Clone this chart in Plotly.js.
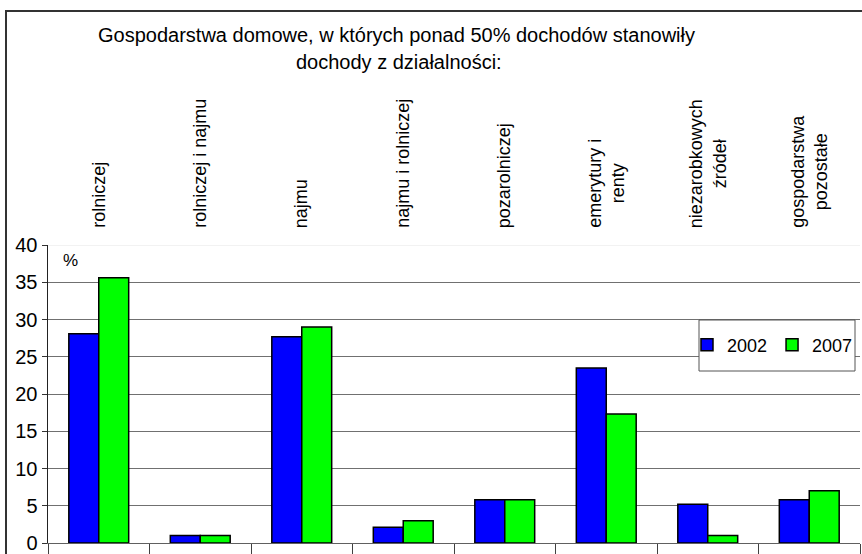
<!DOCTYPE html>
<html>
<head>
<meta charset="utf-8">
<script src="https://cdn.plot.ly/plotly-3.0.1.min.js"></script>
<style>
html,body{margin:0;padding:0;background:#fff;}
#chart{width:862px;height:554px;}
</style>
</head>
<body>
<div id="chart"></div>
<script>
const categories = ["rolniczej", "rolniczej i najmu", "najmu", "najmu i rolniczej", "pozarolniczej", "emerytury i<br>renty", "niezarobkowych<br>źródeł", "gospodarstwa<br>pozostałe"];
const values2002 = [28.1, 1.0, 27.7, 2.1, 5.8, 23.5, 5.2, 5.8];
const values2007 = [35.6, 1.0, 29.0, 3.0, 5.8, 17.3, 1.0, 7.0];
const seriesNames = ["2002", "2007"];
const titleLines = ["Gospodarstwa domowe, w których ponad 50% dochodów stanowiły", "dochody z działalności:"];
const unitLabel = "%";

const FONT = "Liberation Sans, Arial, sans-serif";
const W = 862, H = 554;
const L = 48, R = 2, T = 245, B = 11;
const pw = W - L - R, ph = H - T - B;
const px = x => (x - L) / pw;
const py = y => 1 - (y - T) / ph;

const traces = [
  {type: "bar", name: seriesNames[0], x: categories, y: values2002,
   marker: {color: "#0000FF", line: {color: "#000000", width: 1.5}}},
  {type: "bar", name: seriesNames[1], x: categories, y: values2007,
   marker: {color: "#00FF00", line: {color: "#000000", width: 1.5}}}
];

const annotations = categories.map(c => ({
  x: c, xref: "x", y: py(230), yref: "paper",
  text: c, textangle: -90, showarrow: false,
  xanchor: "center", yanchor: "bottom", align: "center",
  font: {family: FONT, size: 18, color: "#000"}
}));
annotations.push({x: px(396), xref: "paper", y: py(35), yref: "paper", text: titleLines[0],
  showarrow: false, xanchor: "center", yanchor: "middle", font: {family: FONT, size: 20, color: "#000"}});
annotations.push({x: px(399), xref: "paper", y: py(62), yref: "paper", text: titleLines[1],
  showarrow: false, xanchor: "center", yanchor: "middle", font: {family: FONT, size: 20, color: "#000"}});
annotations.push({x: px(70), xref: "paper", y: py(260), yref: "paper", text: unitLabel,
  showarrow: false, xanchor: "center", yanchor: "middle", font: {family: FONT, size: 17, color: "#000"}});

const shapes = [
  {type: "line", xref: "paper", yref: "y", x0: 0, x1: 1, y0: 40, y1: 40,
   line: {color: "#eeeeee", width: 1.5}, layer: "above"},
  {type: "rect", xref: "paper", yref: "paper", x0: px(699), x1: px(855), y0: py(371), y1: py(320),
   fillcolor: "#ffffff", line: {color: "#555555", width: 1}, layer: "above"},
  {type: "rect", xref: "paper", yref: "paper", x0: px(6), x1: 1.3, y0: -0.3, y1: py(11),
   line: {color: "#333333", width: 2}, layer: "above"}
];

const layout = {
  width: W, height: H,
  margin: {l: L, r: R, t: T, b: B, pad: 0, autoexpand: false},
  paper_bgcolor: "#ffffff", plot_bgcolor: "#ffffff",
  font: {family: FONT, color: "#000"},
  barmode: "group", bargap: 0.41, bargroupgap: 0,
  showlegend: true,
  legend: {orientation: "h", x: px(687), y: py(345), xanchor: "left", yanchor: "middle",
    bgcolor: "rgba(0,0,0,0)", borderwidth: 0, font: {family: FONT, size: 18, color: "#000"},
    itemclick: false},
  xaxis: {type: "category", showticklabels: false, ticks: "outside", tickson: "boundaries",
    ticklen: 10, tickcolor: "#404040", showline: true, linecolor: "#606060", linewidth: 1,
    showgrid: false, zeroline: false, fixedrange: true},
  yaxis: {range: [0, 40], dtick: 5, tick0: 0, ticks: "outside", ticklen: 5, tickcolor: "#333",
    showline: true, linecolor: "#222", linewidth: 1.5, showgrid: true, gridcolor: "#707070",
    gridwidth: 1, zeroline: false,
    tickfont: {family: FONT, size: 20, color: "#000"}, fixedrange: true},
  annotations: annotations,
  shapes: shapes
};

Plotly.newPlot("chart", traces, layout, {displayModeBar: false, staticPlot: true});
</script>
</body>
</html>
